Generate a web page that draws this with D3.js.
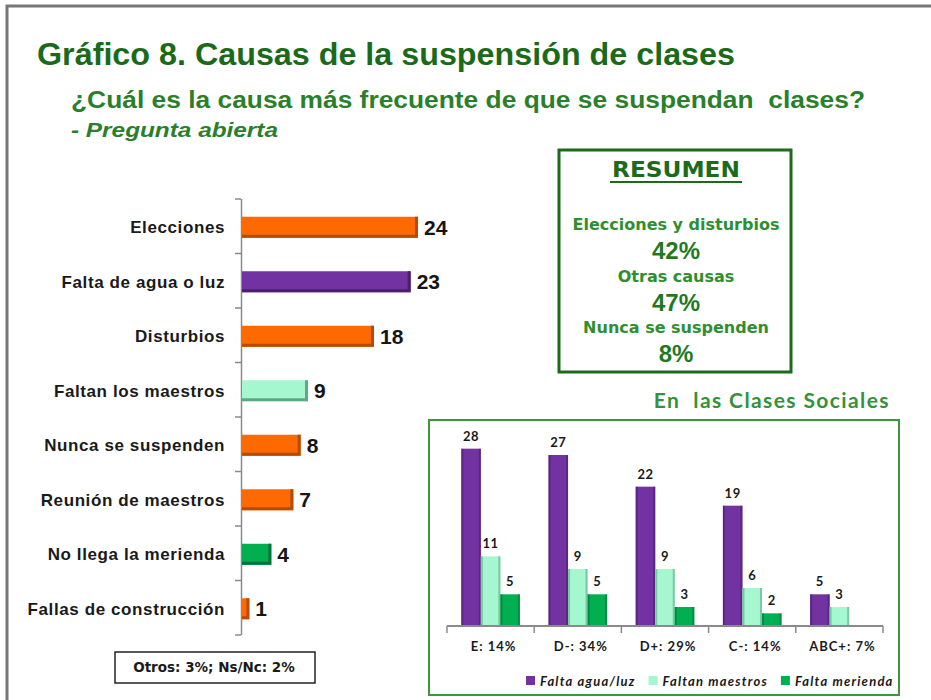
<!DOCTYPE html>
<html lang="es">
<head>
<meta charset="utf-8">
<title>Gráfico 8. Causas de la suspensión de clases</title>
<script src="https://cdn.jsdelivr.net/npm/d3@7"></script>
<style>
  body { margin: 0; background: #fff; }
  svg { display: block; }
  .narrow { font-family: 'Liberation Sans Narrow', 'Arial Narrow', 'Liberation Sans', Arial, sans-serif; font-weight: bold; }
  .arial { font-family: 'Liberation Sans', Arial, sans-serif; font-weight: bold; }
  .wide { font-family: 'DejaVu Sans', Verdana, sans-serif; font-weight: bold; }
  .cal { font-family: Lato, 'Open Sans', sans-serif; font-weight: bold; }
</style>
</head>
<body>
<div id="chart"></div>
<script>

/* Data */
/* ==== */

var causes = ['Elecciones', 'Falta de agua o luz', 'Disturbios', 'Faltan los maestros',
              'Nunca se suspenden', 'Reunión de maestros', 'No llega la merienda', 'Fallas de construcción'];
var causeValues = [24, 23, 18, 9, 8, 7, 4, 1];

var summaryLabels = ['Elecciones y disturbios', 'Otras causas', 'Nunca se suspenden'];
var summaryValues = [42, 47, 8];

var classes = ['E: 14%', 'D-: 34%', 'D+: 29%', 'C-: 14%', 'ABC+: 7%'];
var seriesNames = ['Falta agua/luz', 'Faltan maestros', 'Falta merienda'];
var aguaLuz = [28, 27, 22, 19, 5];
var maestros = [11, 9, 9, 6, 3];
var merienda = [5, 5, 3, 2, null];

var note = 'Otros: 3%; Ns/Nc: 2%';


/* Setup */
/* ===== */

var width = 931,
    height = 700;

var svg = d3.select('#chart').append('svg')
    .attr('width', width)
    .attr('height', height);

// bar colours: [fill, dark edge]
var orange = ['#ff6a00', '#b84a00'],
    purple = ['#7232a2', '#4a1f6b'],
    mint = ['#a4f7cf', '#5fa884'],
    green = ['#00b050', '#00733a'];

var causeColor = d3.scaleOrdinal()
    .domain(causes)
    .range([orange, purple, orange, mint, orange, orange, green, orange]);

var seriesColor = d3.scaleOrdinal()
    .domain(seriesNames)
    .range([purple, mint, green]);

// outer frame
svg.append('path')
    .attr('d', 'M7,700 V6 H931')
    .attr('fill', 'none')
    .attr('stroke', '#777')
    .attr('stroke-width', 3);


/* Titles */
/* ------ */

svg.append('text')
    .attr('class', 'narrow')
    .attr('x', 37).attr('y', 65)
    .attr('font-size', 31)
    .attr('fill', '#1a6a1a')
    .attr('textLength', 698)
    .attr('lengthAdjust', 'spacingAndGlyphs')
    .text('Gráfico 8. Causas de la suspensión de clases');

svg.append('text')
    .attr('class', 'narrow')
    .attr('x', 71).attr('y', 108)
    .attr('font-size', 23)
    .attr('fill', '#2a7f2a')
    .attr('textLength', 794)
    .attr('lengthAdjust', 'spacingAndGlyphs')
    .style('white-space', 'pre')
    .text('¿Cuál es la causa más frecuente de que se suspendan  clases?');

svg.append('text')
    .attr('class', 'narrow')
    .attr('x', 71).attr('y', 137)
    .attr('font-size', 20)
    .attr('font-style', 'italic')
    .attr('fill', '#2a7f2a')
    .attr('textLength', 207)
    .attr('lengthAdjust', 'spacingAndGlyphs')
    .text('- Pregunta abierta');


/* Left chart: causes */
/* ================== */

var x = d3.scaleLinear()
    .domain([0, 30])
    .range([242, 462]);

var y = d3.scaleBand()
    .domain(causes)
    .range([199, 635]);

var barH = 21;

var left = svg.append('g');

// axis line with ticks at band boundaries
left.append('line')
    .attr('x1', 241.5).attr('x2', 241.5)
    .attr('y1', y.range()[0]).attr('y2', y.range()[1])
    .attr('stroke', '#8a8a8a').attr('stroke-width', 1.5);

left.selectAll('.tick')
    .data(d3.range(causes.length + 1))
    .join('line')
    .attr('x1', 235).attr('x2', 241)
    .attr('y1', function(i) { return y.range()[0] + i * y.step(); })
    .attr('y2', function(i) { return y.range()[0] + i * y.step(); })
    .attr('stroke', '#8a8a8a').attr('stroke-width', 1.5);

var rows = left.selectAll('.row')
    .data(causes)
    .join('g')
    .attr('transform', function(d) {
      return 'translate(0,' + (y(d) + y.bandwidth() / 2 + 1) + ')';
    });

rows.append('rect')
    .attr('x', x(0))
    .attr('y', -barH / 2)
    .attr('width', function(d, i) { return x(causeValues[i]) - x(0); })
    .attr('height', barH)
    .attr('fill', function(d) { return causeColor(d)[0]; });

// darker bevel on right and bottom edge
rows.append('path')
    .attr('d', function(d, i) {
      var x1 = x(causeValues[i]) - 1.5;
      return 'M' + x1 + ',' + (-barH / 2) + ' V' + (barH / 2 - 1.5) + ' H' + x(0);
    })
    .attr('fill', 'none')
    .attr('stroke', function(d) { return causeColor(d)[1]; })
    .attr('stroke-width', 3);

rows.append('text')
    .attr('class', 'narrow')
    .attr('x', function(d, i) { return x(causeValues[i]) + 6; })
    .attr('dy', '0.36em')
    .attr('font-size', 21)
    .attr('fill', '#151515')
    .text(function(d, i) { return causeValues[i]; });

rows.append('text')
    .attr('class', 'arial')
    .attr('x', 225)
    .attr('dy', '0.36em')
    .attr('text-anchor', 'end')
    .attr('font-size', 17)
    .attr('letter-spacing', 0.6)
    .attr('fill', '#1a1a1a')
    .text(function(d) { return d; });

// footnote box
svg.append('rect')
    .attr('x', 115).attr('y', 652)
    .attr('width', 200).attr('height', 31)
    .attr('fill', '#fff')
    .attr('stroke', '#222').attr('stroke-width', 1.5);

svg.append('text')
    .attr('class', 'wide')
    .attr('x', 214).attr('y', 672)
    .attr('text-anchor', 'middle')
    .attr('font-size', 13.5)
    .attr('fill', '#1a1a1a')
    .text(note);


/* Summary box */
/* =========== */

svg.append('rect')
    .attr('x', 559).attr('y', 150)
    .attr('width', 232).attr('height', 222)
    .attr('fill', '#fff')
    .attr('stroke', '#1b6b1b').attr('stroke-width', 3);

svg.append('text')
    .attr('class', 'wide')
    .attr('x', 676).attr('y', 177)
    .attr('text-anchor', 'middle')
    .attr('font-size', 21)
    .attr('fill', '#1b6b1b')
    .attr('textLength', 128)
    .attr('lengthAdjust', 'spacingAndGlyphs')
    .text('RESUMEN');

svg.append('line')
    .attr('x1', 610).attr('x2', 742)
    .attr('y1', 182).attr('y2', 182)
    .attr('stroke', '#1b6b1b').attr('stroke-width', 2);

var summary = svg.append('g').selectAll('g')
    .data(summaryLabels)
    .join('g')
    .attr('transform', function(d, i) { return 'translate(676,' + (230 + i * 51.5) + ')'; });

summary.append('text')
    .attr('class', 'wide')
    .attr('text-anchor', 'middle')
    .attr('font-size', 16)
    .attr('fill', '#2f8f2f')
    .text(function(d) { return d; });

summary.append('text')
    .attr('class', 'narrow')
    .attr('y', 29)
    .attr('text-anchor', 'middle')
    .attr('font-size', 24)
    .attr('fill', '#1f7a1f')
    .text(function(d, i) { return summaryValues[i] + '%'; });


/* Right chart: social classes */
/* =========================== */

svg.append('text')
    .attr('class', 'cal')
    .attr('x', 890).attr('y', 408)
    .attr('text-anchor', 'end')
    .attr('font-size', 21)
    .attr('letter-spacing', 1.4)
    .attr('fill', '#34923a')
    .style('white-space', 'pre')
    .text('En  las Clases Sociales');

svg.append('rect')
    .attr('x', 429).attr('y', 420)
    .attr('width', 470).attr('height', 275)
    .attr('fill', '#fff')
    .attr('stroke', '#3c963c').attr('stroke-width', 2);

var series = [aguaLuz, maestros, merienda];

var x0 = d3.scaleBand()
    .domain(classes)
    .range([447, 883]);

var x1 = d3.scaleBand()
    .domain(seriesNames)
    .range([14.3, x0.bandwidth() - 14.3]);

var y2 = d3.scaleLinear()
    .domain([0, 30])
    .range([626, 436]);

var right = svg.append('g');

var groups = right.selectAll('.grp')
    .data(classes)
    .join('g')
    .attr('transform', function(d) { return 'translate(' + x0(d) + ',0)'; });

var cells = groups.selectAll('g')
    .data(function(d, ci) {
      return seriesNames.map(function(s, si) { return { key: s, value: series[si][ci] }; })
        .filter(function(c) { return c.value != null; });
    })
    .join('g');

cells.append('rect')
    .attr('x', function(d) { return x1(d.key); })
    .attr('y', function(d) { return y2(d.value); })
    .attr('width', x1.bandwidth())
    .attr('height', function(d) { return y2(0) - y2(d.value); })
    .attr('fill', function(d) { return seriesColor(d.key)[0]; });

// darker edges left and right
cells.append('path')
    .attr('d', function(d) {
      var xa = x1(d.key) + 1, xb = x1(d.key) + x1.bandwidth() - 1;
      return 'M' + xa + ',' + y2(0) + ' V' + y2(d.value) + ' M' + xb + ',' + y2(d.value) + ' V' + y2(0);
    })
    .attr('fill', 'none')
    .attr('stroke', function(d) { return seriesColor(d.key)[1]; })
    .attr('stroke-opacity', 0.6)
    .attr('stroke-width', 2);

cells.append('text')
    .attr('class', 'cal')
    .attr('x', function(d) { return x1(d.key) + x1.bandwidth() / 2; })
    .attr('y', function(d) { return y2(d.value) - 8; })
    .attr('text-anchor', 'middle')
    .attr('font-size', 13)
    .attr('letter-spacing', 0.5)
    .attr('fill', '#1a1a1a')
    .text(function(d) { return d.value; });

// category axis
var xAxis = right.append('g')
    .attr('transform', 'translate(0,' + y2(0) + ')')
    .call(d3.axisBottom(x0).tickSize(0).tickPadding(16));

xAxis.select('.domain')
    .attr('d', 'M' + x0.range()[0] + ',0 H' + x0.range()[1])
    .attr('stroke', '#8a8a8a').attr('stroke-width', 2);

xAxis.selectAll('.tick text')
    .attr('class', 'cal')
    .attr('font-size', 13)
    .attr('letter-spacing', 1)
    .attr('fill', '#1a1a1a')
    .attr('dx', 3);

xAxis.selectAll('.sep')
    .data(d3.range(classes.length + 1))
    .join('line')
    .attr('x1', function(i) { return x0.range()[0] + i * x0.step(); })
    .attr('x2', function(i) { return x0.range()[0] + i * x0.step(); })
    .attr('y1', 0).attr('y2', 7)
    .attr('stroke', '#8a8a8a').attr('stroke-width', 1.5);

// legend
var legend = right.append('g')
    .attr('transform', 'translate(526,681)');

var lx = 0;
seriesNames.forEach(function(s) {
  var item = legend.append('g').attr('transform', 'translate(' + lx + ',0)');
  item.append('rect')
    .attr('x', 0).attr('y', -5)
    .attr('width', 9).attr('height', 9)
    .attr('fill', seriesColor(s)[0]);
  var t = item.append('text')
    .attr('class', 'cal')
    .attr('x', 14)
    .attr('dy', '0.36em')
    .attr('font-size', 13)
    .attr('font-style', 'italic')
    .attr('letter-spacing', 1.2)
    .attr('fill', '#1a1a1a')
    .text(s);
  lx += 14 + t.node().getComputedTextLength() + 13;
});

</script>
</body>
</html>
